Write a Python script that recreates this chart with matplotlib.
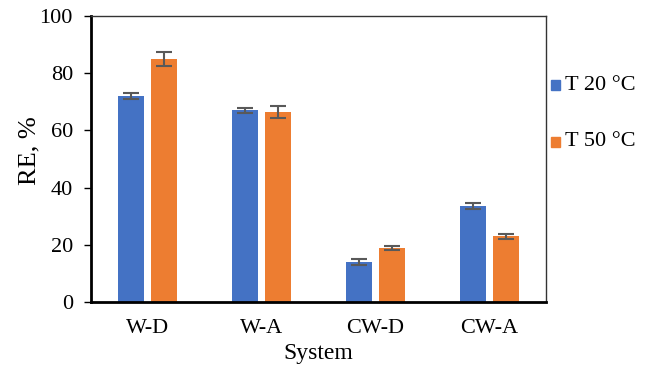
import numpy as np
import matplotlib
matplotlib.use('Agg')
import matplotlib.pyplot as plt

plt.rcParams['font.family'] = ['Liberation Serif', 'DejaVu Serif']

systems = ['W-D', 'W-A', 'CW-D', 'CW-A']
re_20 = [72, 67, 14, 33.5]
err_20 = [1, 1, 1, 1]
re_50 = [85, 66.5, 19, 23]
err_50 = [2.5, 2, 0.7, 0.8]
series = ['T 20 °C', 'T 50 °C']

blue = '#4472C4'
orange = '#ED7D31'

fig = plt.figure(figsize=(6.46, 3.71), dpi=100)
ax = fig.add_axes([91/646, 69/371, 455/646, 286/371])

x = np.arange(len(systems))
w = 0.23
off = 0.145
ekw = dict(ecolor='#595959', elinewidth=1.5, capsize=6, capthick=1.5)
ax.bar(x - off, re_20, w, color=blue, yerr=err_20, error_kw=ekw, zorder=2)
ax.bar(x + off, re_50, w, color=orange, yerr=err_50, error_kw=ekw, zorder=2)

ax.set_xlim(-0.5, 3.5)
ax.set_ylim(0, 100)
ax.set_yticks(range(0, 101, 20))
ax.set_xticks(x)
ax.set_xticklabels(systems)
ax.tick_params(axis='y', labelsize=16, length=5, width=1, direction='out', pad=8)
ax.tick_params(axis='x', labelsize=16, length=0, pad=12)
for s in ax.spines.values():
    s.set_linewidth(1)
    s.set_color('#333333')
ax.spines['left'].set_linewidth(2)
ax.spines['left'].set_color('black')
ax.spines['bottom'].set_linewidth(2)
ax.spines['bottom'].set_color('black')

ax.set_ylabel('RE, %', fontsize=19)
ax.yaxis.set_label_coords(-0.112, 0.53)
ax.set_xlabel('System', fontsize=17, labelpad=4)

# legend at the right, one entry per line, far apart
for name, col, ypix in [(series[0], blue, 85), (series[1], orange, 142)]:
    yf = 1 - ypix / 371
    fig.patches.append(plt.Rectangle((551/646, yf - 5/371), 9/646, 10/371,
                                     transform=fig.transFigure, color=col))
    fig.text(565/646, yf, name, fontsize=16, va='center', ha='left')

fig.savefig('out.png', dpi=100)
